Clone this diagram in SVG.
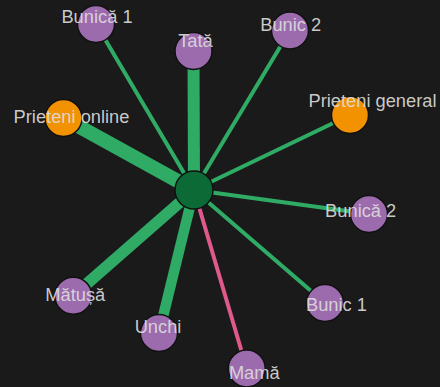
<svg xmlns="http://www.w3.org/2000/svg" width="440" height="387" viewBox="0 0 440 387">
<style>
.bg{fill:#1a1a1a}
.e{stroke:#2fab65;stroke-linecap:butt}
.p{stroke:#e0598b;stroke-linecap:butt}
.n circle{stroke:#111;stroke-width:1.5}
.rel circle{fill:#9c6bae}
.fr circle{fill:#f39200}
.c circle{fill:#0b6a36}
text{font-family:"Liberation Sans",Arial,sans-serif;font-size:18.3px;fill:#dcdcdc;fill-opacity:0.92;text-anchor:middle}
</style>
<rect class="bg" x="0" y="0" width="440" height="387"/>
<g id="edges">
<line class="e" x1="194" y1="190" x2="96" y2="24" stroke-width="4"/>
<line class="e" x1="194" y1="190" x2="193.5" y2="51" stroke-width="12"/>
<line class="e" x1="194" y1="190" x2="290" y2="30.5" stroke-width="4"/>
<line class="e" x1="194" y1="190" x2="63.5" y2="118" stroke-width="14"/>
<line class="e" x1="194" y1="190" x2="350" y2="115" stroke-width="4"/>
<line class="e" x1="194" y1="190" x2="369" y2="214" stroke-width="4"/>
<line class="e" x1="194" y1="190" x2="325" y2="303" stroke-width="4"/>
<line class="e" x1="194" y1="190" x2="73.3" y2="295.7" stroke-width="11.5"/>
<line class="e" x1="194" y1="190" x2="159" y2="333" stroke-width="10.5"/>
<line class="p" x1="194" y1="190" x2="246.7" y2="368.5" stroke-width="4"/>
</g>
<g id="n-bunica1" class="n rel"><circle cx="96" cy="24" r="18.5"/><text x="97" y="23.3">Bunică 1</text></g>
<g id="n-tata" class="n rel"><circle cx="193.5" cy="51" r="18.5"/><text x="195.5" y="46.7">Tată</text></g>
<g id="n-bunic2" class="n rel"><circle cx="290" cy="30.5" r="18.5"/><text x="290.7" y="31">Bunic 2</text></g>
<g id="n-prieteni-online" class="n fr"><circle cx="63.5" cy="118" r="18.5"/><text x="71.5" y="123.3">Prieteni online</text></g>
<g id="n-prieteni-general" class="n fr"><circle cx="350" cy="115" r="18.5"/><text x="372.5" y="106.7">Prieteni general</text></g>
<g id="n-bunica2" class="n rel"><circle cx="369" cy="214" r="18.5"/><text x="360.7" y="216.7">Bunică 2</text></g>
<g id="n-bunic1" class="n rel"><circle cx="325" cy="303" r="18.5"/><text x="336.5" y="310.7">Bunic 1</text></g>
<g id="n-matusa" class="n rel"><circle cx="73.3" cy="295.7" r="18.5"/><text x="75.3" y="301">Mătușă</text></g>
<g id="n-unchi" class="n rel"><circle cx="159" cy="333" r="18.5"/><text x="158" y="332.7">Unchi</text></g>
<g id="n-mama" class="n rel"><circle cx="246.7" cy="368.5" r="18.5"/><text x="254.3" y="379">Mamă</text></g>
<g id="n-center" class="n c"><circle cx="194" cy="190" r="19"/></g>
</svg>
